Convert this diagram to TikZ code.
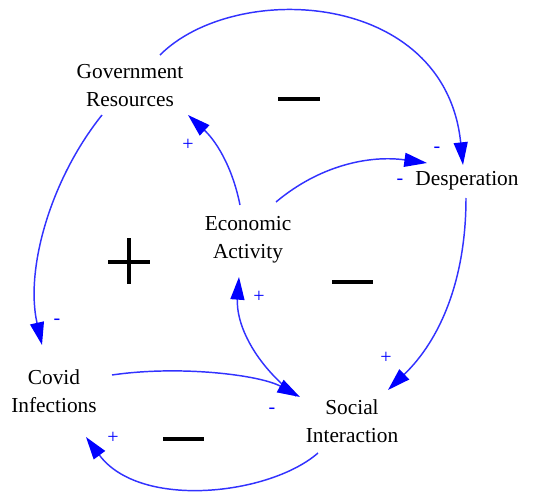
\documentclass[tikz,border=0pt]{standalone}
\usepackage{fontspec}
\setmainfont{Liberation Serif}
\usetikzlibrary{arrows.meta,calc}
\begin{document}
\begin{tikzpicture}[x=0.75pt,y=-0.75pt,
  var/.style={align=center,inner sep=0pt,font=\fontsize{16}{21}\selectfont},
  link/.style={draw={rgb,255:red,50;green,50;blue,255},line width=1.1pt,
    -{Triangle[length=17pt,width=10.5pt,color=blue]}},
  pol/.style={text=blue,inner sep=0pt,font=\fontsize{15}{18}\selectfont},
  loopmark/.style={draw=black,line width=2.5pt}]
\useasboundingbox (0,0) rectangle (537,496);
% variables
\node[var] (gov) at (130,86) {Government\\Resources};
\node[var] (econ) at (248,240) {Economic\\Activity};
\node[var] (desp) at (467,181) {Desperation};
\node[var] (covid) at (54,391) {Covid\\Infections};
\node[var] (soc) at (352,421) {Social\\Interaction};
% links
\draw[link] ($(gov)+(30,-31)$) .. controls (235,-20) and (445,-10) .. ($(desp)+(-4,-16)$);
\draw[link] ($(gov)+(-28,29)$) .. controls (50,180) and (25,270) .. ($(covid)+(-12,-46)$);
\draw[link] ($(econ)+(-8,-35)$) .. controls (232,165) and (215,140) .. ($(gov)+(58,29)$);
\draw[link] ($(econ)+(28,-38)$) .. controls (320,165) and (370,155) .. ($(desp)+(-40,-18)$);
\draw[link] ($(desp)+(-1,17)$) .. controls (466,280) and (440,340) .. ($(soc)+(36,-31)$);
\draw[link] ($(soc)+(-56,-25)$) .. controls (250,360) and (236,320) .. ($(econ)+(-9,37)$);
\draw[link] ($(covid)+(58,-16)$) .. controls (180,365) and (260,375) .. ($(soc)+(-52,-24)$);
\draw[link] ($(soc)+(-34,32)$) .. controls (270,495) and (140,510) .. ($(covid)+(32,46)$);
% polarities
\node[pol] (p1) at (188,145) {+};
\node[pol] (p2) at (437,150) {-};
\node[pol] (p3) at (400,182) {-};
\node[pol] (p4) at (57,322) {-};
\node[pol] (p5) at (259,297) {+};
\node[pol] (p6) at (386,358) {+};
\node[pol] (p7) at (272,411) {-};
\node[pol] (p8) at (113,438) {+};
% loop markers
\draw[loopmark] (278,99) -- (320,99);
\draw[loopmark] (108,262) -- (150,262);
\draw[loopmark] (129,238) -- (129,284);
\draw[loopmark] (332,282) -- (373,282);
\draw[loopmark] (163,439) -- (204,439);
\end{tikzpicture}
\end{document}
